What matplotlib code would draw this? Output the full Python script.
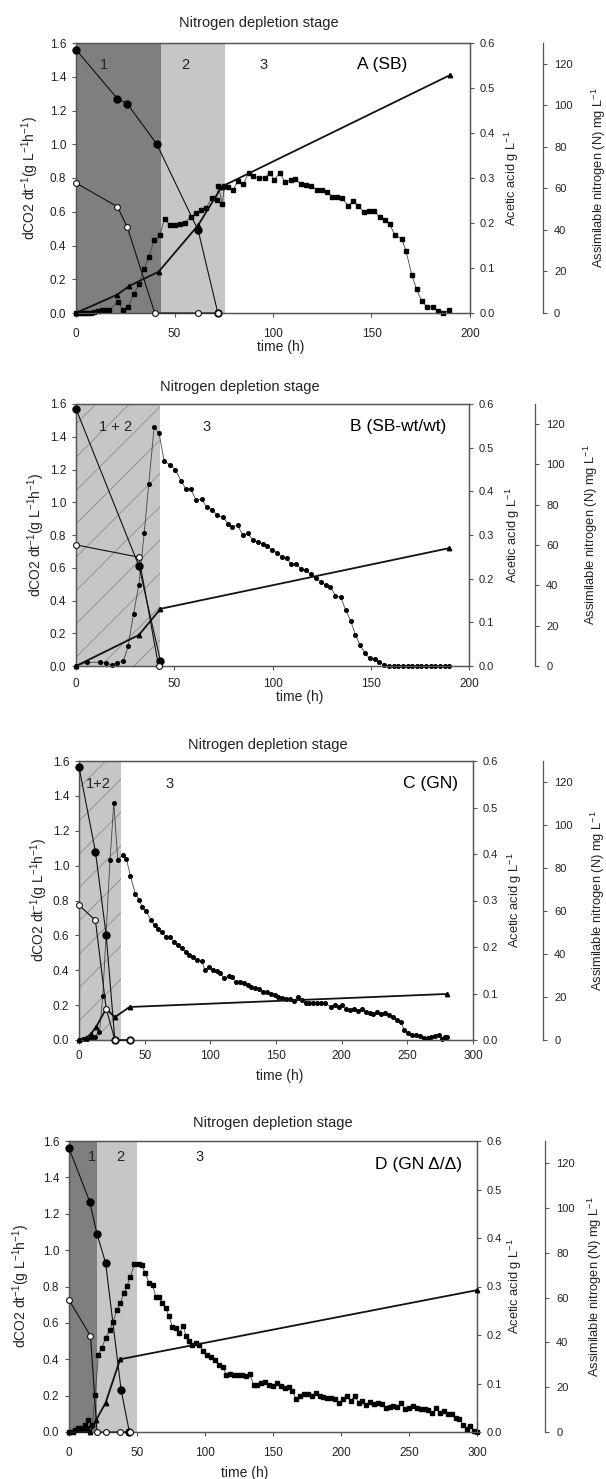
import matplotlib as mpl
mpl.use('agg')
import matplotlib.pyplot as plt

plt.rcParams['font.family'] = ['Liberation Sans', 'DejaVu Sans']
plt.rcParams['mathtext.default'] = 'regular'
plt.rcParams['hatch.linewidth'] = 0.6

# ---------------- panel A (SB) ----------------
a_co2_t = [0, 1.5, 3, 4.5, 6, 7.5, 9, 11, 13, 15,
           17, 21.2, 23.9, 26.4, 29.3, 31.9, 34.4, 37, 39.5, 42.5,
           45, 47.6, 50.2, 52.7, 55.3, 58.5, 61, 63.5, 66, 68.8,
           71.4, 72.3, 74.3, 75.3, 77.2, 79.8, 82.1, 85, 87.6, 90.1,
           92.9, 95.8, 98.3, 100.7, 103.4, 106.2, 108.9, 111.4, 114, 116.7,
           119.3, 122.2, 124.7, 127.3, 130, 132.6, 135.1, 138.2, 140.8, 143.3,
           146, 148.6, 151.1, 154.1, 156.6, 159.3, 161.7, 165.3, 167.5, 170.4,
           172.9, 175.4, 178.3, 181, 183.9, 186.1, 189.1]
a_co2 = [0, 0, 0, 0, 0, 0, 0.005, 0.01, 0.015, 0.02,
         0.02, 0.065, 0.02, 0.035, 0.11, 0.17, 0.26, 0.33, 0.43, 0.46,
         0.56, 0.52, 0.52, 0.53, 0.535, 0.57, 0.59, 0.61, 0.62, 0.68,
         0.67, 0.75, 0.645, 0.75, 0.745, 0.73, 0.78, 0.765, 0.83, 0.81,
         0.80, 0.80, 0.83, 0.79, 0.83, 0.775, 0.79, 0.795, 0.765, 0.76,
         0.755, 0.73, 0.73, 0.72, 0.69, 0.69, 0.68, 0.635, 0.665, 0.635,
         0.60, 0.605, 0.605, 0.57, 0.55, 0.525, 0.465, 0.44, 0.37, 0.227,
         0.14, 0.073, 0.035, 0.035, 0.01, 0.0, 0.016]
a_nf_t = [0, 21, 26, 41, 62, 72]
a_nf = [126.8, 103.2, 100.8, 81.3, 39.8, 0]
a_no_t = [0, 21, 26, 40, 62, 72]
a_no = [62.6, 51.2, 41.4, 0, 0, 0]
a_ac_t = [0, 21, 27, 42, 62, 74, 190]
a_ac = [0, 0.041, 0.06, 0.092, 0.195, 0.281, 0.529]

# ---------------- panel B (SB-wt/wt) ----------------
b_co2_t = [0, 5.8, 12.2, 15.3, 18.2, 20.7, 24.1, 26.5, 29.3, 32,
           34.7, 37, 39.8, 42.3, 44.9, 47.6, 50.5, 53.5, 56, 58.4,
           61, 63.9, 66.5, 69.4, 71.8, 74.7, 77.3, 79.6, 82.2, 84.8,
           87.5, 89.9, 92.4, 95, 97.3, 99.9, 102.5, 104.8, 107.2, 109.5,
           112.1, 114.7, 117, 119.6, 122.1, 124.5, 127, 129.4, 132, 134.7,
           137.3, 139.8, 142.2, 144.5, 147.1, 149.5, 152, 154.4, 156.9, 159.3,
           161.7, 164.1, 166.4, 168.8, 171.1, 173.5, 175.8, 178.2, 180.5, 182.9,
           185.2, 187.6, 190]
b_co2 = [0, 0.022, 0.024, 0.02, 0.006, 0.02, 0.03, 0.12, 0.32, 0.495,
         0.81, 1.11, 1.46, 1.42, 1.25, 1.23, 1.20, 1.13, 1.08, 1.08,
         1.015, 1.02, 0.97, 0.955, 0.92, 0.91, 0.87, 0.85, 0.86, 0.80,
         0.81, 0.77, 0.76, 0.745, 0.73, 0.71, 0.69, 0.665, 0.66, 0.62,
         0.625, 0.59, 0.585, 0.56, 0.535, 0.515, 0.495, 0.485, 0.43, 0.42,
         0.34, 0.275, 0.19, 0.13, 0.077, 0.047, 0.045, 0.026, 0.004, 0.0,
         0, 0, 0, 0, 0, 0, 0, 0, 0, 0,
         0, 0, 0]
b_nf_t = [0, 32, 43]
b_nf = [127.6, 49.6, 2.4]
b_no_t = [0, 32, 42]
b_no = [60.1, 54.0, 0]
b_ac_t = [0, 32, 43, 190]
b_ac = [0, 0.071, 0.131, 0.27]

# ---------------- panel C (GN) ----------------
c_co2_t = [0, 3, 6, 9, 12, 15.6, 18.1, 23.6, 26.5, 29.5,
           33.3, 36, 39.2, 42.8, 45.7, 48.1, 51, 54.6, 57.5, 60.5,
           63.4, 66.4, 69.3, 72.3, 75.2, 78.2, 81.1, 84.1, 87, 90,
           93.5, 95.9, 98.8, 101.8, 104.7, 107.7, 110.6, 114.2, 116.5, 119.5,
           122.4, 125.4, 128.3, 131.3, 134.2, 137.2, 140.1, 143.1, 146, 149,
           151.9, 154.9, 157.8, 160.8, 163.7, 166.7, 169.6, 173.2, 175.5, 178.5,
           181.4, 184.4, 187.3, 191.7, 194.7, 197.6, 200.6, 203.5, 206.5, 209.4,
           212.4, 215.3, 218.3, 221.2, 224.2, 227.1, 230.1, 233, 236, 238.9,
           241.9, 244.8, 247.8, 250.7, 253.7, 256.6, 259.6, 262.5, 265.5, 268.4,
           271.4, 274.3, 276.4, 278.8, 280]
c_co2 = [0, 0.004, 0.004, 0.01, 0.02, 0.048, 0.25, 1.03, 1.36, 1.035,
         1.06, 1.04, 0.94, 0.84, 0.805, 0.764, 0.74, 0.69, 0.657, 0.636,
         0.617, 0.59, 0.59, 0.563, 0.544, 0.525, 0.506, 0.487, 0.477, 0.458,
         0.454, 0.40, 0.416, 0.40, 0.393, 0.382, 0.353, 0.368, 0.359, 0.334,
         0.332, 0.325, 0.315, 0.305, 0.296, 0.29, 0.277, 0.273, 0.263, 0.256,
         0.248, 0.242, 0.233, 0.233, 0.225, 0.248, 0.229, 0.21, 0.21, 0.21,
         0.21, 0.21, 0.21, 0.19, 0.2, 0.19, 0.2, 0.18, 0.172, 0.18,
         0.168, 0.176, 0.162, 0.157, 0.149, 0.162, 0.149, 0.157, 0.143, 0.134,
         0.115, 0.105, 0.057, 0.038, 0.029, 0.029, 0.023, 0.01, 0.01, 0.015,
         0.023, 0.029, 0.006, 0.015, 0.02]
c_nf_t = [0, 12.5, 20.7, 27.3, 38.5]
c_nf = [127.2, 87.8, 48.8, 0, 0]
c_no_t = [0, 12.5, 20.7, 27.3, 38.5]
c_no = [62.8, 55.8, 14.6, 0, 0]
c_ac_t = [0, 5, 9, 13, 20.7, 27.3, 38.5, 280]
c_ac = [0, 0.004, 0.013, 0.028, 0.0675, 0.049, 0.071, 0.099]

# ---------------- panel D (GN delta/delta) ----------------
d_co2_t = [0, 2.7, 4.4, 6.8, 9.2, 11.7, 13.3, 14.1, 17.2, 19.2,
           21.6, 24, 26.9, 29.9, 32.5, 35.2, 37.6, 40.3, 42.7, 45.1,
           48.1, 51.2, 53.6, 56.1, 59, 61.4, 63.8, 66.3, 68.7, 71.1,
           73.5, 75.9, 78.4, 81, 83.9, 86, 88.2, 90.6, 93.4, 95.7,
           98.6, 101.4, 104.3, 107.1, 110, 112.9, 115.7, 118.6, 121.4, 124.3,
           127.1, 130, 132.9, 135.7, 138.6, 141.4, 144.3, 147.1, 150, 152.9,
           155.7, 158.6, 161.4, 164.3, 167.1, 170, 172.9, 175.7, 178.6, 181.4,
           184.3, 187.1, 190, 192.9, 195.7, 198.6, 201.4, 204.3, 207.1, 210,
           212.9, 215.7, 218.6, 221.4, 224.3, 227.1, 230, 232.9, 235.7, 238.6,
           241.4, 244.3, 247.1, 250, 252.9, 255.7, 258.6, 261.4, 264.3, 267.1,
           270, 272.9, 275.7, 278.6, 281.4, 284.3, 287.1, 290, 292.9, 294.9,
           297.7, 300]
d_co2 = [0, 0, 0.013, 0.022, 0.022, 0.04, 0.022, 0.068, 0.04, 0.205,
         0.424, 0.46, 0.516, 0.56, 0.607, 0.67, 0.707, 0.762, 0.805, 0.854,
         0.923, 0.923, 0.916, 0.872, 0.82, 0.81, 0.744, 0.74, 0.708, 0.68,
         0.638, 0.58, 0.57, 0.543, 0.585, 0.53, 0.5, 0.48, 0.49, 0.48,
         0.448, 0.426, 0.413, 0.395, 0.371, 0.358, 0.316, 0.32, 0.314, 0.316,
         0.313, 0.307, 0.32, 0.26, 0.26, 0.267, 0.274, 0.261, 0.252, 0.267,
         0.252, 0.24, 0.247, 0.225, 0.179, 0.2, 0.207, 0.207, 0.197, 0.216,
         0.197, 0.194, 0.188, 0.187, 0.183, 0.161, 0.179, 0.197, 0.17, 0.197,
         0.161, 0.17, 0.146, 0.165, 0.155, 0.161, 0.152, 0.133, 0.137, 0.143,
         0.137, 0.157, 0.124, 0.133, 0.143, 0.133, 0.128, 0.128, 0.119, 0.102,
         0.13, 0.102, 0.115, 0.097, 0.097, 0.079, 0.069, 0.037, 0.015, 0.033,
         0.005, 0]
d_nf_t = [0, 15.3, 20.6, 26.9, 38.3, 44.4]
d_nf = [126.8, 102.8, 88.3, 75.6, 18.9, 0]
d_no_t = [0, 15.8, 20.6, 26.9, 37.6, 44.9]
d_no = [59.0, 42.9, 0, 0, 0, 0]
d_ac_t = [0, 15.8, 20.1, 26.9, 37.6, 300]
d_ac = [0, 0, 0.0255, 0.06, 0.15, 0.2925]

DARK = '#7f7f7f'
LIGHT = '#c6c6c6'
SPINE = '#555555'
TXT = '#222222'

fig = plt.figure(figsize=(6.06, 14.79), dpi=100)


def rect(l, t, r, b):
    return [l / 606, 1 - b / 1479, (r - l) / 606, (b - t) / 1479]


def style(a, size):
    a.tick_params(axis='both', direction='out', length=3, width=0.8,
                  colors=SPINE, labelcolor=TXT, labelsize=size)
    for s in a.spines.values():
        s.set_color(SPINE)
        s.set_linewidth(0.9)


def panel(box, xmax, p):
    ax = fig.add_axes(rect(*box))
    ax.set_xlim(0, xmax)
    ax.set_ylim(0, 1.6)
    ax.set_yticks([0, 0.2, 0.4, 0.6, 0.8, 1.0, 1.2, 1.4, 1.6])
    ax.set_yticklabels(['%.1f' % v for v in ax.get_yticks()])
    ax.set_xticks(range(0, xmax + 1, 50))
    style(ax, 8.5)
    ax.tick_params(axis='x', pad=p['xpad'])
    ax.tick_params(axis='y', pad=4)

    ax2 = ax.twinx()
    ax2.set_ylim(0, 0.6)
    ax2.set_yticks([0, 0.1, 0.2, 0.3, 0.4, 0.5, 0.6])
    ax2.set_yticklabels(['%.1f' % v for v in ax2.get_yticks()])
    style(ax2, 8)
    ax2.tick_params(axis='y', pad=4)

    ax3 = ax.twinx()
    ax3.set_ylim(0, 130)
    ax3.set_yticks([0, 20, 40, 60, 80, 100, 120])
    style(ax3, 8)
    ax3.tick_params(axis='y', pad=5)
    for s in ['top', 'bottom', 'left']:
        ax3.spines[s].set_visible(False)
    ax3.spines['right'].set_position(('axes', p['n3']))

    ax.set_ylabel('dCO2 dt$^{-1}$(g L$^{-1}$h$^{-1}$)', fontsize=10, color=TXT)
    ax.yaxis.set_label_coords(p['ylx'], 0.5)
    ax.yaxis.label.set_va('center')
    ax2.set_ylabel('Acetic acid g L$^{-1}$', fontsize=9.3, color=TXT)
    ax2.yaxis.set_label_coords(p['y2x'], 0.5)
    ax2.yaxis.label.set_va('center')
    ax3.set_ylabel('Assimilable nitrogen (N) mg L$^{-1}$', fontsize=9.3, color=TXT)
    ax3.yaxis.set_label_coords(p['y3x'], 0.5)
    ax3.yaxis.label.set_va('center')
    ax.set_xlabel('time (h)', fontsize=10, color=TXT)
    ax.xaxis.set_label_coords(p['xlx'], p['xly'])
    ax.xaxis.label.set_va('center')
    ax.text(p['tx'], p['ty'], 'Nitrogen depletion stage', transform=ax.transAxes,
            ha='center', va='center', fontsize=10.5, color=TXT)
    return ax, ax2, ax3


def series(axs, co2_t, co2, marker, ms, nf_t, nf, no_t, no, ac_t, ac):
    ax, ax2, ax3 = axs
    ax.plot(co2_t, co2, color='#444444', lw=0.6, marker=marker, ms=ms,
            mfc='black', mec='black', clip_on=False, zorder=3)
    ax2.plot(ac_t, ac, color='#111111', lw=1.3, marker='^', ms=3.2,
             mfc='black', mec='black', clip_on=False, zorder=4)
    ax3.plot(nf_t, nf, color='#111111', lw=0.8, marker='o', ms=5,
             mfc='black', mec='black', clip_on=False, zorder=5)
    ax3.plot(no_t, no, color='#111111', lw=0.8, marker='o', ms=4.2,
             mfc='white', mec='#111111', mew=0.8, clip_on=False, zorder=6)


layout = [
    dict(box=(76, 43, 470, 313), xmax=200, n3=1.185, ylx=-0.115, y2x=1.107, y3x=1.327,
         xlx=0.52, xly=-0.126, tx=0.465, ty=1.074, xpad=7.5),
    dict(box=(76, 404, 469, 666), xmax=200, n3=1.168, ylx=-0.10, y2x=1.112, y3x=1.31,
         xlx=0.57, xly=-0.118, tx=0.417, ty=1.065, xpad=5.5),
    dict(box=(79, 761, 473, 1040), xmax=300, n3=1.178, ylx=-0.10, y2x=1.107, y3x=1.317,
         xlx=0.51, xly=-0.129, tx=0.48, ty=1.057, xpad=4.5),
    dict(box=(69, 1141, 477, 1432), xmax=300, n3=1.167, ylx=-0.118, y2x=1.093, y3x=1.29,
         xlx=0.43, xly=-0.141, tx=0.5, ty=1.062, xpad=7.5),
]

STAGE_FS = 10.5
TAG_FS = 12.5

# A
axs = panel(layout[0]['box'], layout[0]['xmax'], layout[0])
axs[0].axvspan(0, 43, color=DARK, lw=0, zorder=0)
axs[0].axvspan(43, 75.5, color=LIGHT, lw=0, zorder=0)
for x, s in [(14, '1'), (55.7, '2'), (95.4, '3')]:
    axs[0].text(x, 1.47, s, ha='center', va='center', fontsize=STAGE_FS, color=TXT)
axs[0].text(155.4, 1.47, 'A (SB)', ha='center', va='center', fontsize=TAG_FS, color='black')
series(axs, a_co2_t, a_co2, 's', 3.4, a_nf_t, a_nf, a_no_t, a_no, a_ac_t, a_ac)

# B
axs = panel(layout[1]['box'], layout[1]['xmax'], layout[1])
axs[0].axvspan(0, 43, facecolor=LIGHT, edgecolor='#8c8c8c', hatch='/', lw=0, zorder=0)
axs[0].text(20, 1.46, '1 + 2', ha='center', va='center', fontsize=STAGE_FS, color=TXT)
axs[0].text(66.5, 1.46, '3', ha='center', va='center', fontsize=STAGE_FS, color=TXT)
axs[0].text(164, 1.46, 'B (SB-wt/wt)', ha='center', va='center', fontsize=TAG_FS, color='black')
series(axs, b_co2_t, b_co2, 'o', 2.6, b_nf_t, b_nf, b_no_t, b_no, b_ac_t, b_ac)

# C
axs = panel(layout[2]['box'], layout[2]['xmax'], layout[2])
axs[0].axvspan(0, 32, facecolor=LIGHT, edgecolor='#8c8c8c', hatch='/', lw=0, zorder=0)
axs[0].text(14.7, 1.47, '1+2', ha='center', va='center', fontsize=STAGE_FS, color=TXT)
axs[0].text(69.3, 1.47, '3', ha='center', va='center', fontsize=STAGE_FS, color=TXT)
axs[0].text(267.5, 1.47, 'C (GN)', ha='center', va='center', fontsize=TAG_FS, color='black')
series(axs, c_co2_t, c_co2, 'o', 2.6, c_nf_t, c_nf, c_no_t, c_no, c_ac_t, c_ac)

# D
axs = panel(layout[3]['box'], layout[3]['xmax'], layout[3])
axs[0].axvspan(0, 20.9, color=DARK, lw=0, zorder=0)
axs[0].axvspan(20.9, 50, color=LIGHT, lw=0, zorder=0)
for x, s in [(16.6, '1'), (38, '2'), (96.3, '3')]:
    axs[0].text(x, 1.51, s, ha='center', va='center', fontsize=STAGE_FS, color=TXT)
axs[0].text(257, 1.47, 'D (GN \u0394/\u0394)', ha='center', va='center', fontsize=TAG_FS, color='black')
series(axs, d_co2_t, d_co2, 's', 3.0, d_nf_t, d_nf, d_no_t, d_no, d_ac_t, d_ac)

plt.savefig('out.png', dpi=100)
